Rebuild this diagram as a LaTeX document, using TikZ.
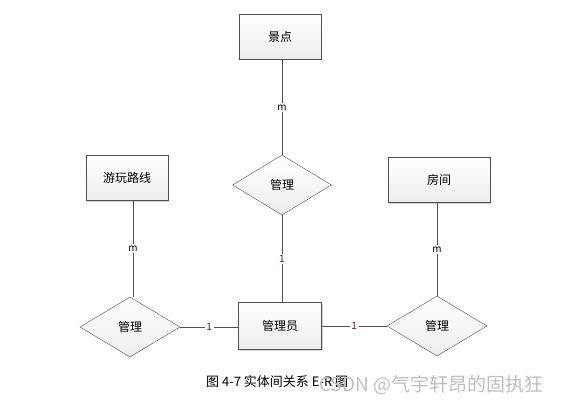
\documentclass[tikz,border=0pt]{standalone}
\usepackage{fontspec}
\setmainfont{Noto Sans CJK SC}
\usepackage{xcolor}
\usepackage{tikz}
\usetikzlibrary{shapes,positioning,shadows}

\definecolor{edgegray}{HTML}{505050}
\definecolor{onecol}{HTML}{5A1A30}

\begin{document}
\begin{tikzpicture}[x=1pt,y=-1pt,
    entity/.style={draw=edgegray, top color=white, bottom color=gray!14,
        minimum width=82pt, minimum height=45pt, inner sep=0pt,
        font=\fontsize{12}{14}\selectfont,
        drop shadow={shadow xshift=1pt, shadow yshift=-1pt, opacity=0.35}},
    relation/.style={diamond, draw=edgegray, top color=white, bottom color=gray!14,
        minimum width=99pt, minimum height=60pt, aspect=1.65, inner sep=0pt,
        font=\fontsize{12}{14}\selectfont},
    link/.style={draw=edgegray, line width=0.8pt},
    many/.style={fill=white, inner sep=1.5pt, font=\fontsize{10}{11}\selectfont},
    one/.style={fill=white, inner sep=1.5pt, text=onecol, font=\fontsize{10}{11}\selectfont}]
    \useasboundingbox (0,0) rectangle (567,409);

    % entities
    \node [entity] (jingdian) at (280,37) {景点};
    \node [entity] (luxian) at (127,178) {游玩路线};
    \node [entity, minimum width=102pt] (fangjian) at (439,180) {房间};
    \node [entity, minimum width=83pt, minimum height=47pt] (guanliyuan) at (280,326) {管理员};

    % relations
    \node [relation] (guanlitop) at (282,185) {管理};
    \node [relation, minimum width=100pt] (guanlileft) at (130,327) {管理};
    \node [relation, minimum width=100pt] (guanliright) at (437,326) {管理};

    % connectors
    \draw [link] (jingdian.south -| guanlitop) -- node [many] {m} (guanlitop.north);
    \draw [link] (guanlitop.south) -- node [one] {1} (guanliyuan.north -| guanlitop);
    \draw [link] (luxian.south -| 133,0) -- node [many] {m} (guanlileft.north -| 133,0);
    \draw [link] (fangjian.south -| guanliright) -- node [many] {m} (guanliright.north);
    \draw [link] (guanlileft.east) -- node [one] {1} (guanliyuan.west |- guanlileft.east);
    \draw [link] (guanliyuan.east |- guanliright.west) -- node [one] {1} (guanliright.west);

    % caption and watermark
    \node [font=\fontsize{13}{15}\selectfont, anchor=west, inner sep=0pt] (caption) at (206,382) {图 4-7 实体间关系 E-R 图};
    \node [text=gray!50, font=\fontsize{19}{21}\selectfont, anchor=west, inner sep=0pt] (mark) at (319,385) {CSDN @气宇轩昂的固执狂};
\end{tikzpicture}
\end{document}
